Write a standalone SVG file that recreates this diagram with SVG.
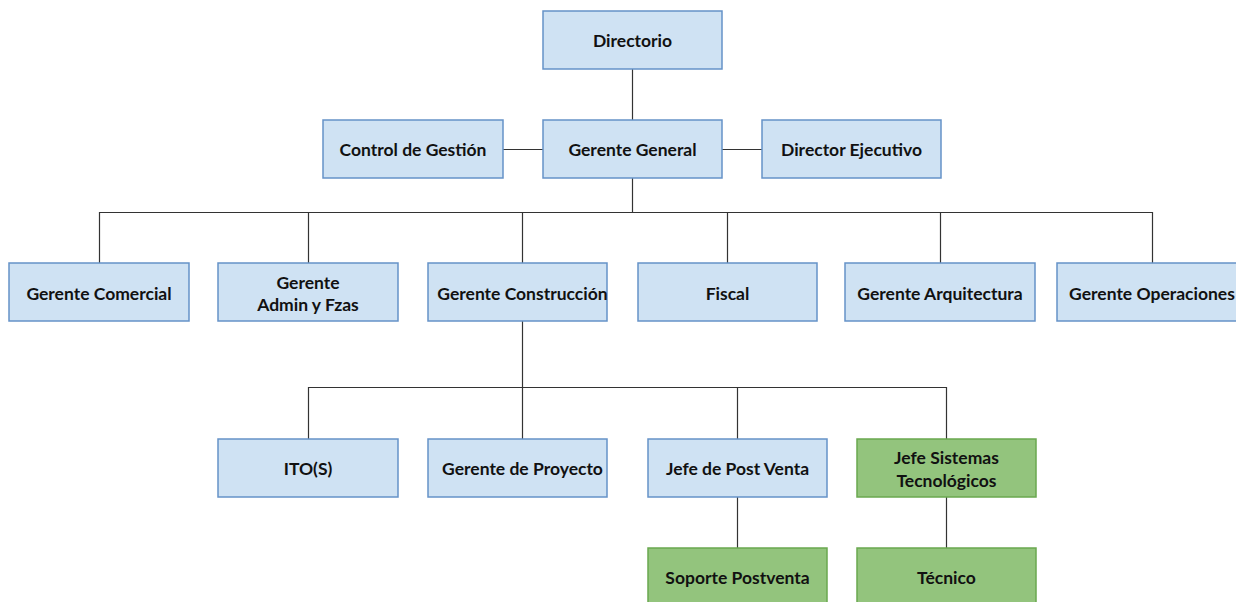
<svg xmlns="http://www.w3.org/2000/svg" width="1236" height="602" viewBox="0 0 1236 602">
  <style>
    .blue rect { fill: #cfe2f3; stroke: #6592c8; stroke-width: 1.5; }
    .green rect { fill: #93c47d; stroke: #6aa84f; stroke-width: 1.5; }
    text { font-family: Lato, "Open Sans", "Liberation Sans", sans-serif; font-weight: bold; font-size: 17.5px; fill: #111; text-anchor: middle; }
    .wire { fill: none; stroke: #333; stroke-width: 1.2; }
  </style>
  <rect width="1236" height="602" fill="#fff"/>

  <!-- connectors -->
  <g id="connectors" class="wire">
    <path d="M632.5 69 V120"/>
    <path d="M503 149.5 H543 M722 149.5 H762"/>
    <path d="M632.5 178 V212.5"/>
    <path d="M99.5 263 V212.5 H1152.5 V263"/>
    <path d="M308.5 212.5 V263 M522.5 212.5 V263 M727.5 212.5 V263 M940.5 212.5 V263"/>
    <path d="M522.5 321 V387.5"/>
    <path d="M308.5 439 V387.5 H946.5 V439"/>
    <path d="M522.5 387.5 V439 M737.5 387.5 V439"/>
    <path d="M737.5 497 V548 M946.5 497 V548"/>
  </g>

  <!-- top -->
  <g id="directorio" class="blue"><rect x="543" y="11" width="179" height="58"/><text x="632.5" y="47">Directorio</text></g>
  <g id="control-gestion" class="blue"><rect x="323" y="120" width="180" height="58"/><text x="413" y="156">Control de Gestión</text></g>
  <g id="gerente-general" class="blue"><rect x="543" y="120" width="179" height="58"/><text x="632.5" y="156">Gerente General</text></g>
  <g id="director-ejecutivo" class="blue"><rect x="762" y="120" width="179" height="58"/><text x="851.5" y="156">Director Ejecutivo</text></g>

  <!-- second level -->
  <g id="gerente-comercial" class="blue"><rect x="9" y="263" width="180" height="58"/><text x="99" y="300">Gerente Comercial</text></g>
  <g id="gerente-admin" class="blue"><rect x="218" y="263" width="180" height="58"/><text x="308" y="289">Gerente</text><text x="308" y="311">Admin y Fzas</text></g>
  <g id="gerente-construccion" class="blue"><rect x="428" y="263" width="179" height="58"/><text x="522.5" y="300">Gerente Construcción</text></g>
  <g id="fiscal" class="blue"><rect x="638" y="263" width="179" height="58"/><text x="727.5" y="300">Fiscal</text></g>
  <g id="gerente-arquitectura" class="blue"><rect x="845" y="263" width="190" height="58"/><text x="940" y="300">Gerente Arquitectura</text></g>
  <g id="gerente-operaciones" class="blue"><rect x="1057" y="263" width="184" height="58"/><text x="1152" y="300">Gerente Operaciones</text></g>

  <!-- third level -->
  <g id="itos" class="blue"><rect x="218" y="439" width="180" height="58"/><text x="308" y="475">ITO(S)</text></g>
  <g id="gerente-proyecto" class="blue"><rect x="428" y="439" width="179" height="58"/><text x="522.5" y="475">Gerente de Proyecto</text></g>
  <g id="jefe-post-venta" class="blue"><rect x="648" y="439" width="179" height="58"/><text x="737.5" y="475">Jefe de Post Venta</text></g>
  <g id="jefe-sistemas" class="green"><rect x="857" y="439" width="179" height="58"/><text x="946.5" y="464">Jefe Sistemas</text><text x="946.5" y="487">Tecnológicos</text></g>

  <!-- fourth level -->
  <g id="soporte-postventa" class="green"><rect x="648" y="548" width="179" height="58"/><text x="737.5" y="584">Soporte Postventa</text></g>
  <g id="tecnico" class="green"><rect x="857" y="548" width="179" height="58"/><text x="946.5" y="584">Técnico</text></g>
</svg>
